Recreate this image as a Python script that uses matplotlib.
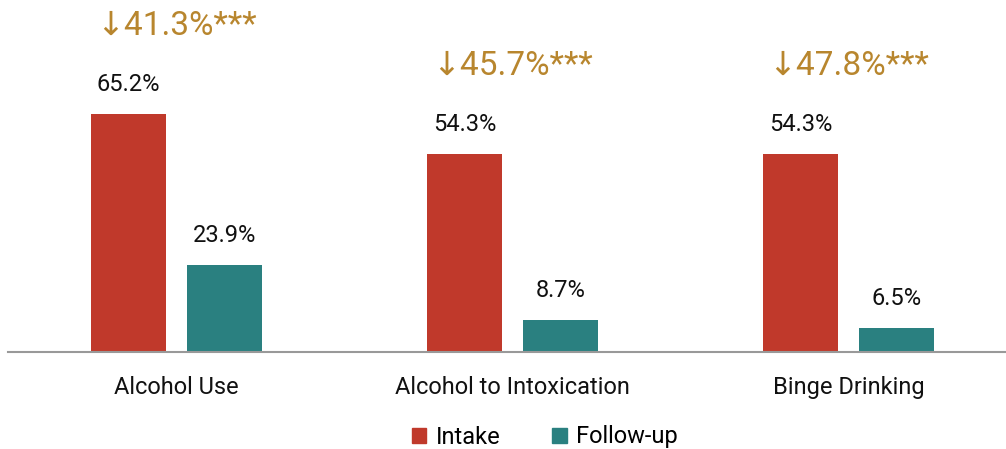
import numpy as np
import matplotlib.pyplot as plt
from matplotlib.patches import Patch

categories = ['Alcohol Use', 'Alcohol to Intoxication', 'Binge Drinking']
intake = [65.2, 54.3, 54.3]
followup = [23.9, 8.7, 6.5]
changes = ['\u219341.3%***', '\u219345.7%***', '\u219347.8%***']

red = '#C0392B'
teal = '#2A8080'
gold = '#B8862E'

plt.rcParams['font.family'] = ['Roboto', 'DejaVu Sans']

fig = plt.figure(figsize=(10.06, 4.49), dpi=100)
ax = fig.add_axes([8 / 1006, 97 / 449, 998 / 1006, 352 / 449])

x = np.arange(len(categories))
w = 0.223
off = 0.143
b1 = ax.bar(x - off, intake, w, color=red)
b2 = ax.bar(x + off, followup, w, color=teal)

# value labels above each bar
for rect, v in zip(list(b1) + list(b2), intake + followup):
    ax.annotate(f'{v}%', (rect.get_x() + rect.get_width() / 2, v),
                xytext=(0, 13), textcoords='offset points',
                ha='center', va='bottom', fontsize=17, color='#111111')

# percent change, centred over each group
for xi, v, t in zip(x, intake, changes):
    ax.annotate(t, (xi, v), xytext=(0, 52), textcoords='offset points',
                ha='center', va='bottom', fontsize=24, color=gold)

ax.set_xlim(-0.5015, -0.5015 + 998 / 336)
ax.set_ylim(0, 352 / 3.65)
for s in ['top', 'right', 'left']:
    ax.spines[s].set_visible(False)
ax.spines['bottom'].set_color('#999999')
ax.spines['bottom'].set_linewidth(1.5)
ax.set_yticks([])
ax.set_xticks(x)
ax.set_xticklabels(categories, fontsize=17, color='#111111')
ax.tick_params(axis='x', length=0, pad=17)

handles = [Patch(color=red, label='Intake'), Patch(color=teal, label='Follow-up')]
fig.legend(handles=handles, loc='center', bbox_to_anchor=(545 / 1006, 1 - 437 / 449),
           ncol=2, frameon=False, fontsize=17, handlelength=0.6, handleheight=0.6,
           handletextpad=0.4, columnspacing=2.2)

fig.savefig('out.png', dpi=100)
